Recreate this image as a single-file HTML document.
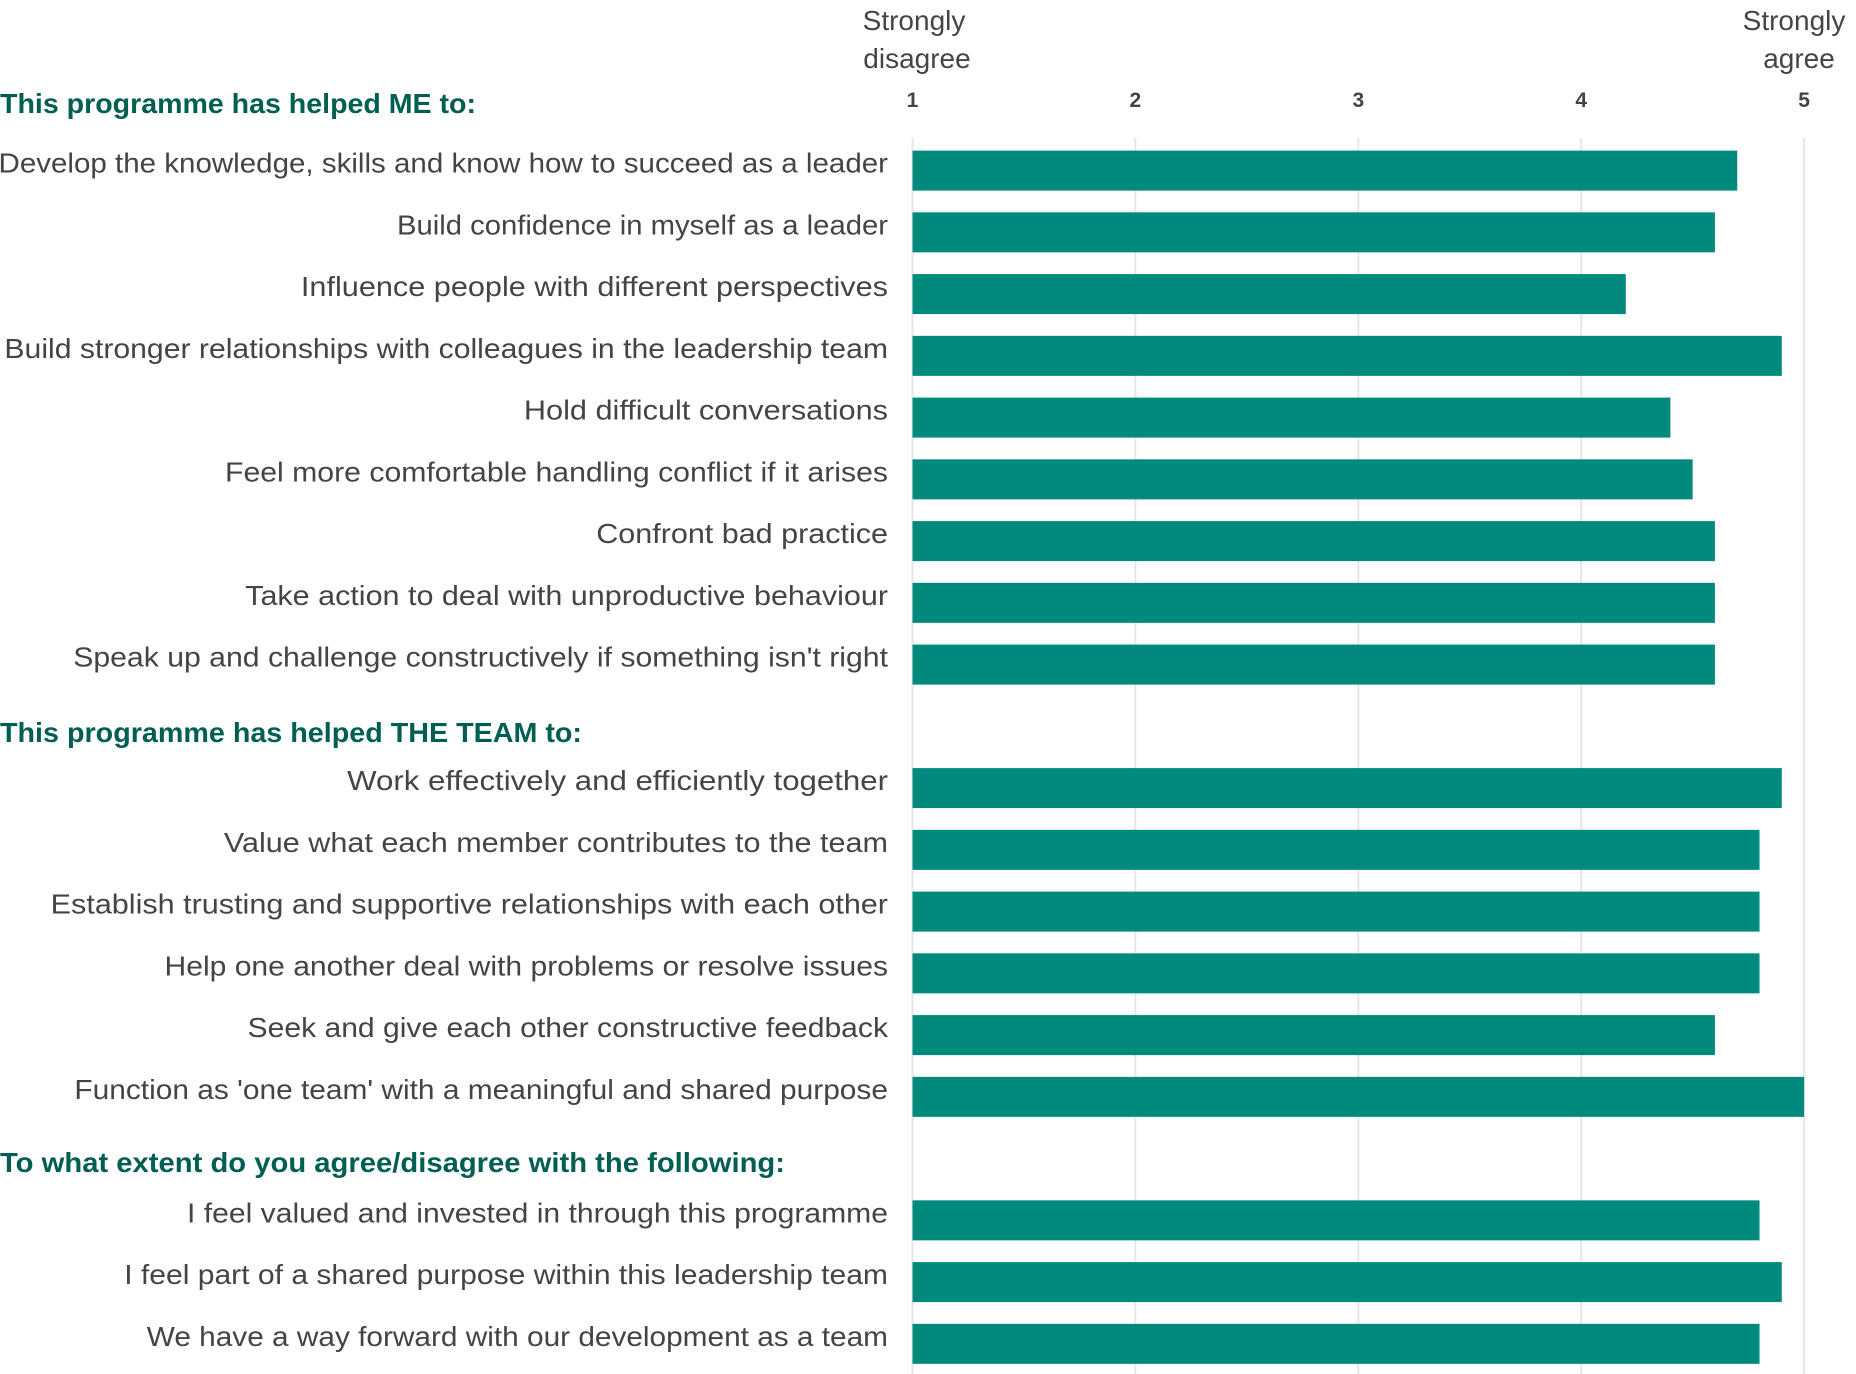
<!DOCTYPE html>
<html><head><meta charset="utf-8"><style>
body{margin:0;background:#fff}
svg{display:block;font-family:"Liberation Sans",sans-serif}
</style></head><body>
<svg id="chart" width="1856" height="1374" viewBox="0 0 1856 1374">
<g id="grid"></g><g id="bars"></g><g id="labels"></g><g id="ticks"></g>
<text x="914" y="30" text-anchor="middle" font-size="28" fill="#444"><tspan x="914">Strongly</tspan><tspan x="917" dy="38">disagree</tspan></text>
<text x="1794" y="30" text-anchor="middle" font-size="28" fill="#444"><tspan x="1794">Strongly</tspan><tspan x="1799" dy="38">agree</tspan></text>
</svg>
<script>
const categories=["Develop the knowledge, skills and know how to succeed as a leader","Build confidence in myself as a leader","Influence people with different perspectives","Build stronger relationships with colleagues in the leadership team","Hold difficult conversations","Feel more comfortable handling conflict if it arises","Confront bad practice","Take action to deal with unproductive behaviour","Speak up and challenge constructively if something isn't right","Work effectively and efficiently together","Value what each member contributes to the team","Establish trusting and supportive relationships with each other","Help one another deal with problems or resolve issues","Seek and give each other constructive feedback","Function as 'one team' with a meaningful and shared purpose","I feel valued and invested in through this programme","I feel part of a shared purpose within this leadership team","We have a way forward with our development as a team"];
const values=[4.7,4.6,4.2,4.9,4.4,4.5,4.6,4.6,4.6,4.9,4.8,4.8,4.8,4.6,5.0,4.8,4.9,4.8];
const slots=[0,1,2,3,4,5,6,7,8,10,11,12,13,14,15,17,18,19];
const labelStarts=[0,336,255,5,443,191,504,208,63,294,190,44,140,210,64,159,106,125];
const headers=["This programme has helped ME to:","This programme has helped THE TEAM to:","To what extent do you agree/disagree with the following:"];
const headerWidths=[476,582,785];
const headerY=[103,732,1162];
const tickLabels=["1","2","3","4","5"];
const ticks=[1,2,3,4,5];
const NS="http://www.w3.org/2000/svg";
const x=v=>912.5+222.9*(v-1);
const y=s=>150.6+61.75*s;
const BH=40;
function mk(tag,attrs,parent,txt){const e=document.createElementNS(NS,tag);for(const k in attrs)e.setAttribute(k,attrs[k]);if(txt!==undefined)e.textContent=txt;document.getElementById(parent).appendChild(e);return e;}
ticks.forEach((t,i)=>{
 const g=mk('line',{x1:x(t),x2:x(t),y1:138,y2:1374,stroke:'#e6e6e6','stroke-width':2},'grid');
 
 
 const l=mk('text',{x:x(t),y:107,'text-anchor':'middle','font-size':21,'font-weight':'bold',fill:'#444'},'ticks',tickLabels[i]);
 
 
});
values.forEach((v,i)=>{
 const r=mk('rect',{x:x(1),y:y(slots[i]),width:x(v)-x(1),height:BH,fill:'#00897D'},'bars');
 
 
 const w=(750-labelStarts[i])*1.186;
 const t=mk('text',{x:888,y:y(slots[i])+22,'text-anchor':'end','font-size':28,fill:'#444',textLength:w,lengthAdjust:'spacingAndGlyphs'},'labels',categories[i]);
 
 
});
headers.forEach((h,i)=>{
 const t=mk('text',{x:0,y:headerY[i]+10,'font-size':28,'font-weight':'bold',fill:'#005F52',textLength:headerWidths[i],lengthAdjust:'spacingAndGlyphs'},'labels',h);
 
 
});
</script>
</body></html>
